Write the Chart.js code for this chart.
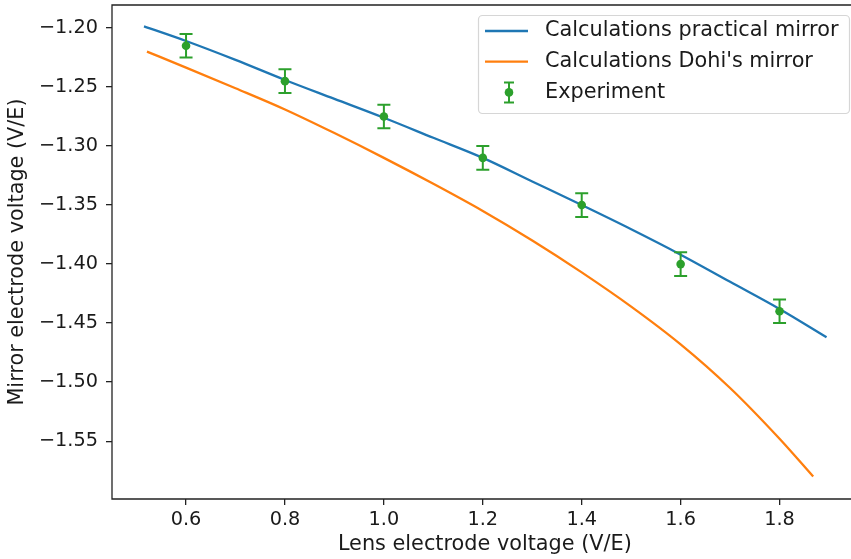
<!DOCTYPE html>
<html>
<head>
<meta charset="utf-8">
<script src="https://cdn.jsdelivr.net/npm/chart.js@4.4.1/dist/chart.umd.min.js"></script>
<style>
  html, body { margin: 0; padding: 0; background: #fff; overflow: hidden; }
  canvas { display: block; }
</style>
</head>
<body>
<canvas id="myChart" width="862" height="559"></canvas>
<script>
// calculated curve, practical mirror
const practicalX = [0.515, 0.6, 0.7, 0.8, 0.9, 1.0, 1.1, 1.2, 1.3, 1.4, 1.5, 1.6, 1.7, 1.8, 1.895]
const practicalY = [-1.1986, -1.211, -1.227, -1.244, -1.260, -1.276, -1.293, -1.310, -1.330, -1.350, -1.3705, -1.392, -1.415, -1.438, -1.462]

// calculated curve, Dohi's mirror
const dohiX = [0.521, 0.6, 0.7, 0.8, 0.9, 1.0, 1.1, 1.2, 1.3, 1.4, 1.5, 1.6, 1.7, 1.8, 1.868]
const dohiY = [-1.220, -1.2335, -1.251, -1.269, -1.289, -1.310, -1.332, -1.355, -1.380, -1.407, -1.436, -1.468, -1.505, -1.548, -1.580]

// measured points with error bars
const expX = [0.6, 0.8, 1.0, 1.2, 1.4, 1.6, 1.8]
const expY = [-1.215, -1.245, -1.275, -1.31, -1.35, -1.40, -1.44]
const expErr = [0.01, 0.01, 0.01, 0.01, 0.01, 0.01, 0.01]

const xTicks = [0.6, 0.8, 1.0, 1.2, 1.4, 1.6, 1.8]
const yTicks = [-1.20, -1.25, -1.30, -1.35, -1.40, -1.45, -1.50, -1.55]

const BLUE = '#1f77b4'
const ORANGE = '#ff7f0e'
const GREEN = '#2ca02c'
const INK = '#1a1a1a'
const FAMILY = '"DejaVu Sans", sans-serif'

Chart.defaults.font.family = FAMILY

const toPoints = (xs, ys) => xs.map((x, i) => ({ x: x, y: ys[i] }))

// fixed axis box sizes, no extra room reserved for edge labels
const fixBox = (w, h) => s => {
  if (w !== null) s.width = w
  if (h !== null) s.height = h
  s.paddingTop = 0; s.paddingBottom = 0
  s.paddingLeft = 0; s.paddingRight = 0
}

// vertical error bars with caps, drawn under the markers
const errorBars = {
  id: 'errorBars',
  beforeDatasetDraw(chart, args) {
    if (args.index !== 2) return
    const { ctx, scales: { x, y } } = chart
    ctx.save()
    ctx.strokeStyle = GREEN
    ctx.lineWidth = 2
    expX.forEach((v, i) => {
      const px = x.getPixelForValue(v)
      const top = y.getPixelForValue(expY[i] + expErr[i])
      const bot = y.getPixelForValue(expY[i] - expErr[i])
      ctx.beginPath()
      ctx.moveTo(px, top); ctx.lineTo(px, bot)
      ctx.moveTo(px - 6.5, top); ctx.lineTo(px + 6.5, top)
      ctx.moveTo(px - 6.5, bot); ctx.lineTo(px + 6.5, bot)
      ctx.stroke()
    })
    ctx.restore()
  }
}

// left, top and bottom spines; the plot runs on past the right edge of the window
const frame = {
  id: 'frame',
  afterDatasetsDraw(chart) {
    const { ctx, chartArea: a } = chart
    ctx.save()
    ctx.strokeStyle = '#222'
    ctx.lineWidth = 1.3
    ctx.beginPath()
    ctx.moveTo(chart.width, a.top)
    ctx.lineTo(a.left, a.top)
    ctx.lineTo(a.left, a.bottom)
    ctx.lineTo(chart.width, a.bottom)
    ctx.stroke()
    ctx.restore()
  }
}

// legend box in the upper right corner
const boxLegend = {
  id: 'boxLegend',
  afterDraw(chart) {
    const { ctx } = chart
    const ds = chart.data.datasets
    ctx.save()
    ctx.beginPath()
    ctx.roundRect(478.5, 15.5, 371, 98, 4)
    ctx.fillStyle = 'rgba(255,255,255,0.8)'
    ctx.fill()
    ctx.strokeStyle = '#d6d6d6'
    ctx.lineWidth = 1.2
    ctx.stroke()

    const rows = [31, 61.6, 92.4]
    ctx.font = '20.8px ' + FAMILY
    ctx.textBaseline = 'middle'
    ctx.fillStyle = INK
    ds.forEach((d, i) => {
      const y = rows[i]
      if (i < 2) {
        ctx.strokeStyle = d.borderColor
        ctx.lineWidth = 2.3
        ctx.beginPath()
        ctx.moveTo(485, y); ctx.lineTo(528, y)
        ctx.stroke()
      } else {
        ctx.strokeStyle = GREEN
        ctx.lineWidth = 2
        ctx.beginPath()
        ctx.moveTo(509, y - 10); ctx.lineTo(509, y + 10)
        ctx.moveTo(504, y - 10); ctx.lineTo(514, y - 10)
        ctx.moveTo(504, y + 10); ctx.lineTo(514, y + 10)
        ctx.stroke()
        ctx.fillStyle = GREEN
        ctx.beginPath()
        ctx.arc(509, y, 4.3, 0, Math.PI * 2)
        ctx.fill()
        ctx.fillStyle = INK
      }
      ctx.fillText(d.label, 545, y)
    })
    ctx.restore()
  }
}

const ctx = document.getElementById('myChart')

new Chart(ctx, {
  type: 'scatter',
  data: {
    datasets: [{
      label: 'Calculations practical mirror',
      data: toPoints(practicalX, practicalY),
      showLine: true,
      borderColor: BLUE,
      borderWidth: 2.3,
      pointRadius: 0,
      cubicInterpolationMode: 'monotone',
      order: 2
    }, {
      label: "Calculations Dohi's mirror",
      data: toPoints(dohiX, dohiY),
      showLine: true,
      borderColor: ORANGE,
      borderWidth: 2.3,
      pointRadius: 0,
      cubicInterpolationMode: 'monotone',
      order: 1
    }, {
      label: 'Experiment',
      data: toPoints(expX, expY),
      showLine: false,
      pointRadius: 4.3,
      pointBorderWidth: 0,
      backgroundColor: GREEN,
      borderColor: GREEN,
      order: 0
    }]
  },
  options: {
    responsive: false,
    animation: false,
    layout: { padding: { top: 5, right: 0, left: 0, bottom: 0 } },
    plugins: {
      legend: { display: false },
      tooltip: { enabled: false }
    },
    scales: {
      x: {
        type: 'linear',
        min: 0.4503,
        max: 1.958,
        afterBuildTicks: s => { s.ticks = xTicks.map(v => ({ value: v })) },
        afterFit: fixBox(null, 60),
        ticks: {
          callback: v => v.toFixed(1),
          color: INK,
          font: { size: 19.3 },
          padding: 3,
          maxRotation: 0,
          autoSkip: false
        },
        grid: { drawOnChartArea: false, tickLength: 6, color: '#222', lineWidth: 1.3 },
        border: { display: false },
        title: {
          display: true,
          text: 'Lens electrode voltage (V/E)',
          color: INK,
          font: { size: 20.8 },
          padding: { top: 0, bottom: 2 }
        }
      },
      y: {
        type: 'linear',
        min: -1.599,
        max: -1.1805,
        afterBuildTicks: s => { s.ticks = yTicks.map(v => ({ value: v })) },
        afterFit: fixBox(112, null),
        ticks: {
          callback: v => (v < 0 ? '\u2212' : '') + Math.abs(v).toFixed(2),
          color: INK,
          font: { size: 19.3 },
          padding: 8,
          autoSkip: false
        },
        grid: { drawOnChartArea: false, tickLength: 6, color: '#222', lineWidth: 1.3 },
        border: { display: false },
        title: {
          display: true,
          text: 'Mirror electrode voltage (V/E)',
          color: INK,
          font: { size: 20.8 },
          padding: { top: 5, bottom: 0 }
        }
      }
    }
  },
  plugins: [errorBars, frame, boxLegend]
})
</script>
</body>
</html>
